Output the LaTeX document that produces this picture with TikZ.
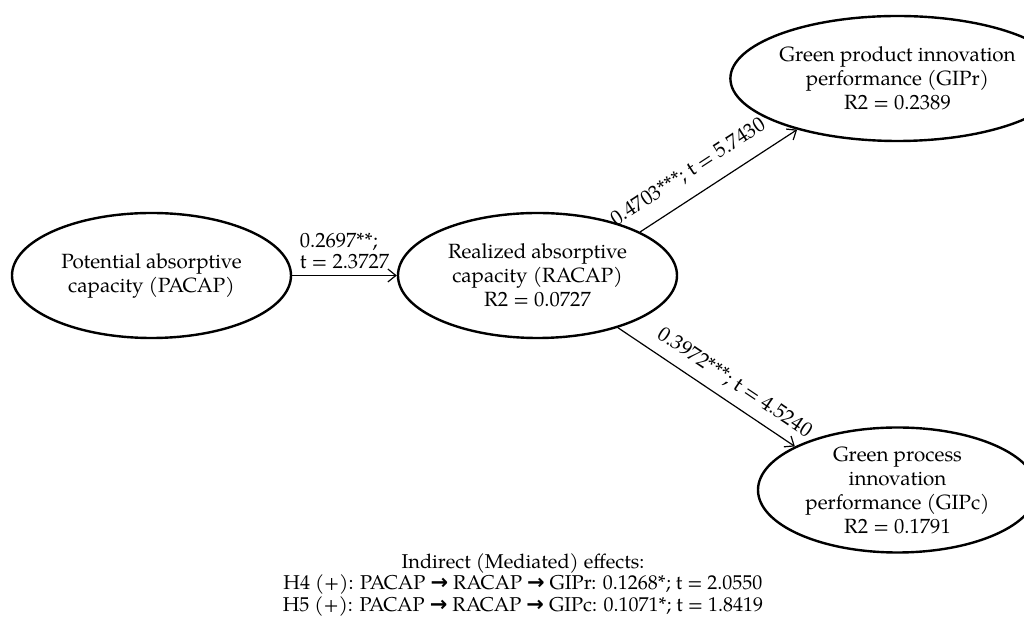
\documentclass[tikz,border=0pt]{standalone}
\usepackage{fontspec}
\setmainfont{TeX Gyre Pagella}
\newfontfamily\arrowfont{DejaVu Sans}
\usepackage{tikz}
\usetikzlibrary{shapes.geometric, arrows.meta}

\newcommand{\medarrow}{{\arrowfont\bfseries\fontsize{10.5}{10}\selectfont →}}

\tikzset{construct/.style={draw, ellipse, line width=1.2pt, minimum width=139.5pt, minimum height=62.5pt, inner sep=0pt, align=center, font=\fontsize{10.3}{12}\selectfont},
  path label/.style={inner sep=0pt, font=\fontsize{10.3}{10.5}\selectfont}}

\begin{document}
\begin{tikzpicture}[x=0.5pt,y=-0.5pt,line width=0.6pt,>={Straight Barb[length=4pt,width=6.5pt]}]
\clip (0,0) rectangle (1024,619);
\node [construct] (PACAP) at (151.5,275.5) {Potential absorptive\\capacity (PACAP)};
\node [construct] (RACAP) at (537.5,275.5) {Realized absorptive\\capacity (RACAP)\\R2 = 0.0727};
\node [construct] (GIPr)  at (897.5,78.5)  {Green product innovation\\performance (GIPr)\\R2 = 0.2389};
\node [construct] (GIPc)  at (897.5,490)   {Green process\\innovation\\performance (GIPc)\\R2 = 0.1791};
\draw [->] (PACAP) -- (RACAP) node [path label, midway, above=3pt, align=left] {0.2697**;\\t = 2.3727};
\draw [->] (RACAP.23) -- (GIPr.207) node [path label, pos=0.39, sloped, above=7pt] {0.4703***; t = 5.7430};
\draw [->] (RACAP.327) -- (GIPc.157) node [path label, pos=0.6, sloped, above=5pt] {0.3972***; t = 4.5240};
\node [path label, align=center, font=\fontsize{10}{9.7}\selectfont] (effects) at (523,585) {Indirect (Mediated) effects:\\H4 (+): PACAP \medarrow{} RACAP \medarrow{} GIPr: 0.1268*; t = 2.0550\\H5 (+): PACAP \medarrow{} RACAP \medarrow{} GIPc: 0.1071*; t = 1.8419};
\end{tikzpicture}
\end{document}
